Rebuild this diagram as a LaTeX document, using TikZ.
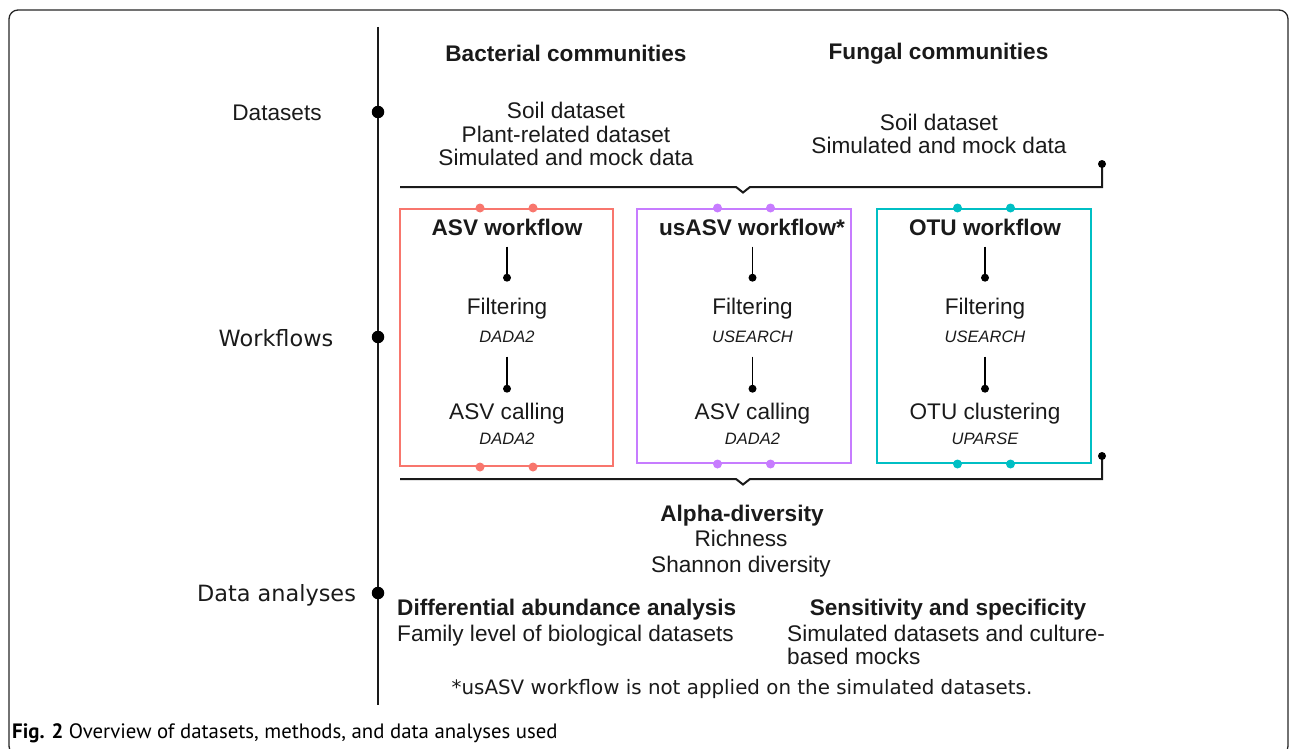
\documentclass[tikz,border=0pt]{standalone}
\usepackage{fontspec}
\setmainfont{Liberation Sans}
\newfontfamily\dvfont{DejaVu Sans}
\newfontfamily\capfont{PT Sans}
\usetikzlibrary{calc}
\definecolor{cred}{HTML}{F8766D}
\definecolor{cpur}{HTML}{C77CFF}
\definecolor{cteal}{HTML}{00BFC4}
\definecolor{ink}{HTML}{1A1A1A}
\begin{document}
\begin{tikzpicture}[x=1pt,y=-1pt,
  txt/.style={inner sep=0pt, text height=16.2pt, text depth=0pt, text=ink, font=\fontsize{22.6}{26}\selectfont},
  btxt/.style={txt, font=\fontsize{22.6}{26}\selectfont\bfseries},
  itxt/.style={inner sep=0pt, text height=11.8pt, text depth=0pt, text=ink, font=\fontsize{16.5}{20}\selectfont\itshape},
  dvtxt/.style={inner sep=0pt, text height=16.3pt, text depth=0pt, text=ink, font=\dvfont\fontsize{22.4}{26}\selectfont},
  wbox/.style={draw=#1, line width=2pt, inner sep=0pt, fill=none},
  tldot/.style={circle, fill=black, inner sep=0pt, minimum size=12.5pt},
  cdot/.style={circle, fill=#1, inner sep=0pt, minimum size=9pt},
  sdot/.style={circle, fill=black, inner sep=0pt, minimum size=8pt},
  stem/.style={line width=1.4pt, black},
  brace/.style={line width=2pt, ink, line join=miter},
]
\useasboundingbox (0,0) rectangle (1290,749);
% outer frame
\draw[line width=1.3pt, black!85, rounded corners=9pt] (9,10) rectangle (1288,755);

% timeline
\coordinate (tlT) at (378,27);
\coordinate (tlB) at (378,705);
\draw[line width=2pt, ink] (tlT) -- (tlB);
\node[tldot] (d1) at (378,112) {};
\node[tldot] (d2) at (378,337) {};
\node[tldot] (d3) at (378,593) {};
\node[txt] (lDat) at (277,112) {Datasets};
\node[dvtxt] (lWf) at (276,338) {Workflows};
\node[dvtxt] (lDa) at (276.5,593) {Data analyses};

% datasets
\node[btxt] (bac) at (566,53) {Bacterial communities};
\node[btxt] (fun) at (938.5,51) {Fungal communities};
\node[txt] (b1) at (566,110) {Soil dataset};
\node[txt] (b2) at (566,134) {Plant-related dataset};
\node[txt] (b3) at (566,157) {Simulated and mock data};
\node[txt] (f1) at (939,122) {Soil dataset};
\node[txt] (f2) at (939,145) {Simulated and mock data};

% top brace
\coordinate (tbL) at (400,187);
\coordinate (tbR) at (1102,187);
\coordinate (tbE) at (1102,164);
\draw[brace] (tbL) -- (736,187) -- (743,192.5) -- (750,187) -- (tbR) -- (tbE);
\node[sdot] at (tbE) {};

% boxes
\node[wbox=cred, minimum width=213pt, minimum height=257pt] (boxA) at (506.5,337.5) {};
\node[wbox=cpur, minimum width=214pt, minimum height=254pt] (boxB) at (744,336) {};
\node[wbox=cteal, minimum width=214pt, minimum height=254pt] (boxC) at (984,336) {};
\foreach \b/\c in {boxA/cred, boxB/cpur, boxC/cteal}{
  \node[cdot=\c] at ($(\b.north)+(-26.5,0)$) {};
  \node[cdot=\c] at ($(\b.north)+(26.5,0)$) {};
  \node[cdot=\c] at ($(\b.south)+(-26.5,0)$) {};
  \node[cdot=\c] at ($(\b.south)+(26.5,0)$) {};
}

% box contents
\node[btxt] (tA) at (507,227) {ASV workflow};
\node[txt]  (fA) at (507,306) {Filtering};
\node[itxt] (gA) at (507,337) {DADA2};
\node[txt]  (sA) at (507,411) {ASV calling};
\node[itxt] (hA) at (507,439) {DADA2};

\node[btxt] (tB) at (752,227) {usASV workflow*};
\node[txt]  (fB) at (752.5,306) {Filtering};
\node[itxt] (gB) at (752.5,337) {USEARCH};
\node[txt]  (sB) at (752.5,411) {ASV calling};
\node[itxt] (hB) at (752.5,439) {DADA2};

\node[btxt] (tC) at (985,227) {OTU workflow};
\node[txt]  (fC) at (985,306) {Filtering};
\node[itxt] (gC) at (985,337) {USEARCH};
\node[txt]  (sC) at (985,411) {OTU clustering};
\node[itxt] (hC) at (985,439) {UPARSE};

\foreach \n in {A,B,C}{
  \draw[stem] ($(f\n.north)+(0,-51)$) -- ($(f\n.north)+(0,-20)$) node[sdot]{};
  \draw[stem] ($(s\n.north)+(0,-46)$) -- ($(s\n.north)+(0,-14)$) node[sdot]{};
}

% bottom brace
\coordinate (bbL) at (400,479);
\coordinate (bbR) at (1102,479);
\coordinate (bbE) at (1102,456);
\draw[brace] (bbL) -- (736,479) -- (743,484.5) -- (750,479) -- (bbR) -- (bbE);
\node[sdot] at (bbE) {};

% analyses
\node[btxt] (al) at (742,513) {Alpha-diversity};
\node[txt] (al1) at (741,538) {Richness};
\node[txt] (al2) at (741,564) {Shannon diversity};
\node[btxt, anchor=west] (da) at (397,607) {Differential abundance analysis};
\node[txt, anchor=west] (da1) at (397,633) {Family level of biological datasets};
\node[btxt] (ss) at (948,607) {Sensitivity and specificity};
\node[txt, anchor=west] (ss1) at (787,633) {Simulated datasets and culture-};
\node[txt, anchor=west] (ss2) at (787,656) {based mocks};

\node[inner sep=0pt, text height=14pt, text depth=0pt, text=ink, font=\dvfont\fontsize{19.85}{22}\selectfont] (fn) at (742,687) {*usASV workflow is not applied on the simulated datasets.};

\node[anchor=west, inner sep=0pt, text height=14pt, text depth=0pt, font=\capfont\fontsize{20.8}{24}\selectfont] (cap) at (12,731) {\textbf{Fig. 2} Overview of datasets, methods, and data analyses used};
\end{tikzpicture}
\end{document}
